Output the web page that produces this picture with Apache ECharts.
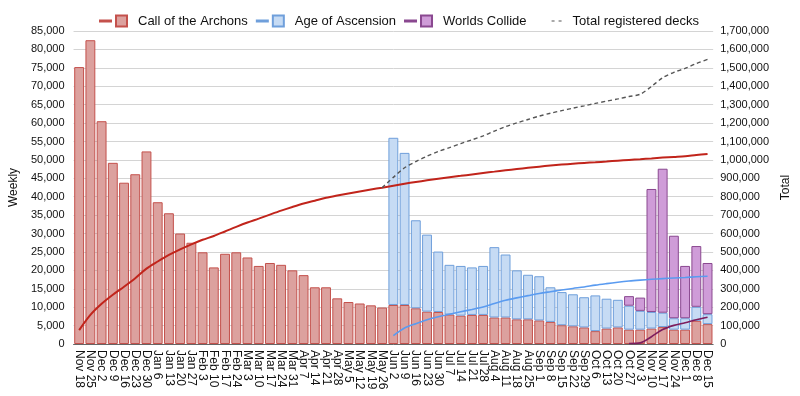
<!DOCTYPE html>
<html>
<head>
<meta charset="utf-8">
<script src="https://cdn.jsdelivr.net/npm/echarts@6/dist/echarts.min.js"></script>
<style>
  html, body { margin: 0; padding: 0; background: #fff; }
  #chart { width: 800px; height: 396px; }
</style>
</head>
<body>
<div id="chart"></div>
<script>
// weekly registrations
var weeks = ['Nov 18', 'Nov 25', 'Dec 2', 'Dec 9', 'Dec 16', 'Dec 23', 'Dec 30', 'Jan 6', 'Jan 13', 'Jan 20',
    'Jan 27', 'Feb 3', 'Feb 10', 'Feb 17', 'Feb 24', 'Mar 3', 'Mar 10', 'Mar 17', 'Mar 24', 'Mar 31',
    'Apr 7', 'Apr 14', 'Apr 21', 'Apr 28', 'May 5', 'May 12', 'May 19', 'May 26', 'Jun 2', 'Jun 9',
    'Jun 16', 'Jun 23', 'Jun 30', 'Jul 7', 'Jul 14', 'Jul 21', 'Jul 28', 'Aug 4', 'Aug 11', 'Aug 18',
    'Aug 25', 'Sep 1', 'Sep 8', 'Sep 15', 'Sep 22', 'Sep 29', 'Oct 6', 'Oct 13', 'Oct 20', 'Oct 27',
    'Nov 3', 'Nov 10', 'Nov 17', 'Nov 24', 'Dec 1', 'Dec 8', 'Dec 15'];

var archons = [75200, 82500, 60500, 49200, 43800, 46100, 52300, 38500, 35500, 30000,
    27500, 24900, 20800, 24500, 24900, 23500, 21200, 22000, 21500, 20000,
    18700, 15400, 15400, 12400, 11400, 11000, 10500, 9900, 10600, 10600,
    9700, 8800, 8700, 8000, 7700, 7900, 7900, 7200, 7200, 6700,
    6700, 6400, 6000, 5100, 4800, 4500, 3500, 4200, 4500, 3900,
    3900, 4200, 4600, 3900, 3900, 6300, 5400];

// Age of Ascension starts at Jun 2
var ascensionStart = 28;
var ascension = [45400, 41300, 23900, 20900, 16400, 13500, 13500, 12900, 13300, 19100,
    17100, 13300, 12100, 12000, 9400, 9000, 8700, 8200, 9700, 8100,
    7500, 6500, 5100, 4500, 3900, 3100, 3100, 3800, 2700];

// Worlds Collide starts at Oct 27
var collideStart = 49;
var collide = [2600, 3600, 33400, 39100, 22400, 14200, 16500, 13900];

// total line starts the week before AoA
var totalStart = 27;

function pad(vals, start) {
    var out = [];
    for (var i = 0; i < weeks.length; i++) {
        out.push(i < start ? '-' : vals[i - start]);
    }
    return out;
}

// running total, blank before the set was out
function runningTotal(weekly, start) {
    var out = [], sum = 0;
    for (var i = 0; i < weekly.length; i++) {
        var v = weekly[i] === '-' ? 0 : weekly[i];
        sum += v;
        out.push(i < start ? '-' : sum);
    }
    return out;
}

var ascWeekly = pad(ascension, ascensionStart);
var wcWeekly = pad(collide, collideStart);
var allWeekly = weeks.map(function (w, i) {
    return archons[i] + (ascWeekly[i] === '-' ? 0 : ascWeekly[i]) + (wcWeekly[i] === '-' ? 0 : wcWeekly[i]);
});

var myChart = echarts.init(document.getElementById('chart'));

var font = 'Liberation Sans, Arial, Helvetica, sans-serif';
// short line + box, with some blank room on the right before the text
var comboIcon = 'path://M0,0 M0,5.5h11v1h-11z M16,0.5h11v11h-11z M33,12';
var fmt = function (v) { return v.toLocaleString('en-US'); };

var option = {
    animation: false,
    textStyle: { fontFamily: font },
    legend: {
        top: 9,
        left: 94,
        itemWidth: 33,
        itemHeight: 12,
        itemGap: 8,
        textStyle: { fontSize: 13, color: '#111', fontFamily: font },
        data: [
            { name: 'Call of the Archons', icon: comboIcon },
            { name: 'Age of Ascension', icon: comboIcon },
            { name: 'Worlds Collide', icon: comboIcon },
            { name: 'Total registered decks', icon: 'path://M0,0 M17,5.4h3v1.2h-3z M24,5.4h3v1.2h-3z M33,12' }
        ]
    },
    grid: { left: 67, right: 82, top: 31, bottom: 52 },
    xAxis: {
        type: 'category',
        data: weeks,
        axisTick: { show: false },
        axisLine: { lineStyle: { color: '#666' } },
        axisLabel: { interval: 0, rotate: -90, fontSize: 12, color: '#111', margin: 6 }
    },
    yAxis: [
        {
            type: 'value',
            name: 'Weekly',
            nameLocation: 'middle',
            nameRotate: 90,
            nameGap: 49,
            nameTextStyle: { fontSize: 12, color: '#111' },
            min: 0, max: 85000, interval: 5000,
            axisLabel: { fontSize: 11, color: '#111', margin: 9, formatter: fmt },
            splitLine: { lineStyle: { color: '#d4d4d4' } }
        },
        {
            type: 'value',
            name: 'Total',
            nameLocation: 'middle',
            nameRotate: 90,
            nameGap: 61,
            nameTextStyle: { fontSize: 12, color: '#111' },
            min: 0, max: 1700000, interval: 100000,
            axisLabel: { fontSize: 11, color: '#111', margin: 7, formatter: fmt },
            splitLine: { show: false }
        }
    ],
    series: [
        {
            name: 'Call of the Archons', type: 'bar', stack: 'weekly', barCategoryGap: '12%',
            itemStyle: { color: '#dca19e', borderColor: '#c4514c', borderWidth: 1 },
            data: archons
        },
        {
            name: 'Age of Ascension', type: 'bar', stack: 'weekly',
            itemStyle: { color: '#c6dbf4', borderColor: '#6f9fdb', borderWidth: 1 },
            data: ascWeekly
        },
        {
            name: 'Worlds Collide', type: 'bar', stack: 'weekly',
            itemStyle: { color: '#cf9cd8', borderColor: '#8a4890', borderWidth: 1 },
            data: wcWeekly
        },
        {
            name: 'Call of the Archons', type: 'line', yAxisIndex: 1, symbol: 'none', smooth: 0.3,
            lineStyle: { color: '#c1241b', width: 2 },
            itemStyle: { color: '#c1241b' },
            data: runningTotal(archons, 0)
        },
        {
            name: 'Age of Ascension', type: 'line', yAxisIndex: 1, symbol: 'none', smooth: 0.3,
            lineStyle: { color: '#5a9bf0', width: 1.6 },
            itemStyle: { color: '#5a9bf0' },
            data: runningTotal(ascWeekly, ascensionStart)
        },
        {
            name: 'Worlds Collide', type: 'line', yAxisIndex: 1, symbol: 'none', smooth: 0.3,
            lineStyle: { color: '#7d1d5e', width: 1.6 },
            itemStyle: { color: '#7d1d5e' },
            data: runningTotal(wcWeekly, collideStart)
        },
        {
            name: 'Total registered decks', type: 'line', yAxisIndex: 1, symbol: 'none', smooth: 0.3,
            lineStyle: { color: '#555', width: 1.4, type: [4, 3] },
            itemStyle: { color: '#555' },
            data: runningTotal(allWeekly, totalStart)
        }
    ]
};

myChart.setOption(option);
</script>
</body>
</html>
